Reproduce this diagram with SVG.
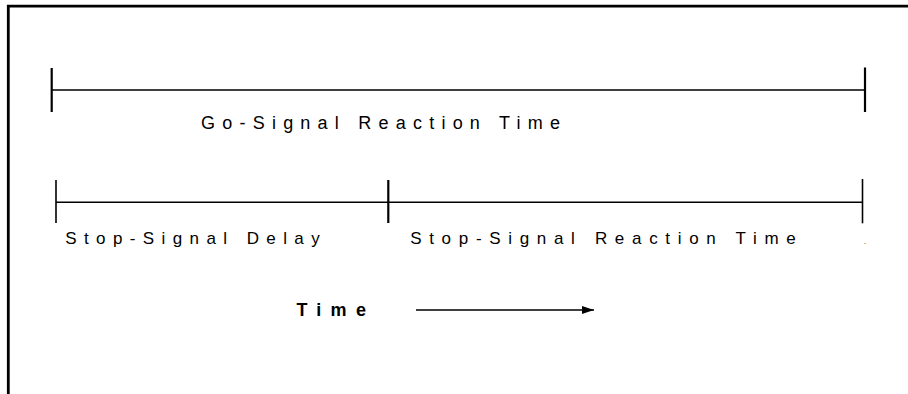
<svg xmlns="http://www.w3.org/2000/svg" width="908" height="394" viewBox="0 0 908 394">
<style>
.frame{stroke:#000;stroke-width:2.8;fill:none}
.bar{stroke:#000;stroke-width:1.4;fill:none}
.tick{stroke:#000;stroke-width:2.2;fill:none}
.lbl{font-family:"Liberation Sans",Arial,sans-serif;font-size:17px;fill:#000}
.big{font-size:18px}
.bold{font-weight:bold}
</style>
<defs>
<marker id="ah" markerWidth="12" markerHeight="8" refX="12" refY="4" orient="auto" markerUnits="userSpaceOnUse">
<polygon points="0,0 12,4 0,8" fill="#000"/>
</marker>
</defs>
<rect width="908" height="394" fill="#fff"/>
<g id="frame">
<path class="frame" d="M8.3,394 V6.2 H908"/>
</g>
<g id="go-signal">
<line class="bar" x1="52" y1="90" x2="865" y2="90"/>
<line class="tick" x1="51.7" y1="68" x2="51.7" y2="112"/>
<line class="tick" x1="865" y1="67.5" x2="865" y2="112"/>
<text class="lbl big" x="201" y="129" textLength="359" lengthAdjust="spacing">Go-Signal Reaction Time</text>
</g>
<g id="stop-signal-delay">
<line class="bar" x1="56" y1="202.3" x2="388.3" y2="202.3"/>
<line class="tick" x1="56" y1="180" x2="56" y2="223" style="stroke-width:1.6"/>
<text class="lbl" x="65.2" y="244" textLength="254.5" lengthAdjust="spacing">Stop-Signal Delay</text>
</g>
<g id="stop-signal-reaction">
<line class="bar" x1="388.3" y1="202.3" x2="862.5" y2="202.3"/>
<line class="tick" x1="388.3" y1="180" x2="388.3" y2="223"/>
<line class="tick" x1="862.5" y1="179" x2="862.5" y2="223.3" style="stroke-width:1.6"/>
<text class="lbl" x="410.2" y="244" textLength="385.5" lengthAdjust="spacing">Stop-Signal Reaction Time</text>
<text class="lbl" x="864" y="244" style="font-size:7px">.</text>
</g>
<g id="time-axis">
<text class="lbl big bold" x="296.4" y="316" textLength="69.5" lengthAdjust="spacing">Time</text>
</g>
<g id="connectors">
<line x1="416" y1="310" x2="594" y2="310" stroke="#000" stroke-width="1.5" marker-end="url(#ah)"/>
</g>
</svg>
